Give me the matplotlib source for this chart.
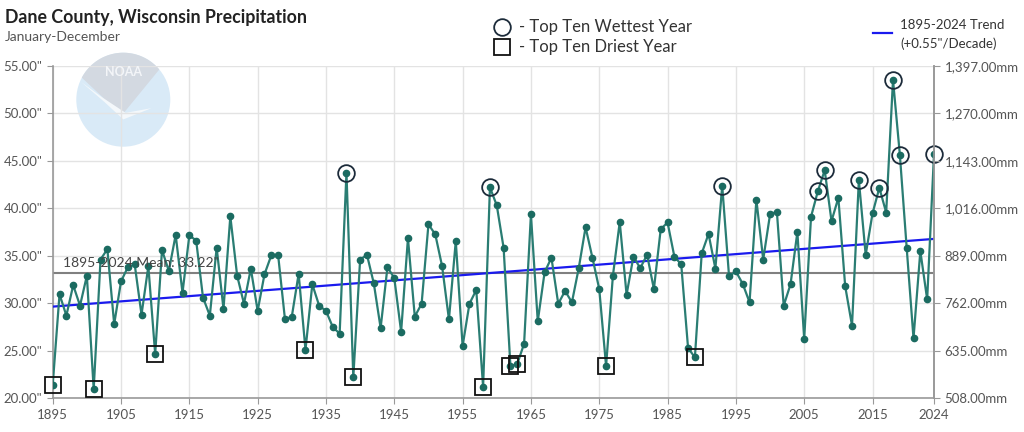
import numpy as np
import matplotlib
matplotlib.use('Agg')
import matplotlib.pyplot as plt
from matplotlib.patches import Circle, Polygon
from matplotlib.lines import Line2D

plt.rcParams['font.family'] = ['Lato', 'DejaVu Sans']

years = np.arange(1895, 2025)
precip = [
    21.4, 30.95, 28.7, 31.9, 29.75, 32.9, 20.95, 34.6, 35.7, 27.8,    # 1895-1904
    32.3, 33.8, 34.1, 28.8, 33.9, 24.66, 35.6, 33.4, 37.2, 31.1,      # 1905-1914
    37.15, 36.6, 30.6, 28.7, 35.85, 29.4, 39.15, 32.9, 29.95, 33.65,  # 1915-1924
    29.2, 33.05, 35.05, 35.05, 28.3, 28.6, 33.1, 25.1, 32.0, 29.75,   # 1925-1934
    29.2, 27.5, 26.8, 43.75, 22.2, 34.6, 35.1, 32.1, 27.4, 33.8,      # 1935-1944
    32.65, 27.0, 36.85, 28.6, 29.95, 38.3, 37.25, 33.9, 28.3, 36.55,  # 1945-1954
    25.5, 29.95, 31.4, 21.2, 42.2, 40.3, 35.85, 23.4, 23.6, 25.75,    # 1955-1964
    39.35, 28.1, 33.25, 34.8, 29.95, 31.3, 30.1, 33.7, 38.0, 34.8,    # 1965-1974
    31.5, 23.4, 32.9, 38.55, 30.9, 34.9, 33.7, 35.1, 31.5, 37.8,      # 1975-1984
    38.5, 34.9, 34.1, 25.3, 24.3, 35.25, 37.3, 33.65, 42.35, 32.85,   # 1985-1994
    33.35, 32.05, 30.1, 40.9, 34.6, 39.35, 39.65, 29.75, 32.0, 37.5,  # 1995-2004
    26.25, 39.1, 41.8, 44.0, 38.65, 41.1, 31.8, 27.65, 42.95, 35.1,   # 2005-2014
    39.45, 42.15, 39.55, 53.5, 45.65, 35.85, 26.3, 35.5, 30.4, 45.7,  # 2015-2024
]
precip = np.array(precip)
wettest_years = [2018, 2024, 2019, 2008, 1938, 2013, 1993, 1959, 2016, 2007]
driest_years = [1901, 1958, 1895, 1939, 1962, 1976, 1963, 1989, 1910, 1932]
mean_val = 33.22
xtick_years = [1895, 1905, 1915, 1925, 1935, 1945, 1955, 1965, 1975, 1985, 1995, 2005, 2015, 2024]
yticks_in = [20, 25, 30, 35, 40, 45, 50, 55]

line_col = '#2a7d73'
dot_col = '#1b6b61'
tick_col = '#555555'
axis_col = '#999999'

fig = plt.figure(figsize=(10.24, 4.32), dpi=100)
ax = fig.add_axes([52.7/1024, 1-398.3/432, (934-52.7)/1024, (398.3-65.7)/432])
ax.set_xlim(1895, 2024)
ax.set_ylim(20, 55)
ax.set_axisbelow(True)

# faded NOAA logo (drawn in inches so it stays round)
cx, cy, r = 1.233, 4.32-0.997, 0.47
ax.add_patch(Circle((cx, cy), r, transform=fig.dpi_scale_trans,
                    facecolor='#d9eaf7', edgecolor='none', zorder=0.2, clip_on=False))
ang = np.radians(np.linspace(40, 152, 40))
top = [(cx + r*np.cos(a), cy + r*np.sin(a)) for a in ang]
top.append((cx - 0.03*r, cy - 0.33*r))
ax.add_patch(Polygon(top, closed=True, transform=fig.dpi_scale_trans,
                     facecolor='#d3d9e1', edgecolor='none', zorder=0.25, clip_on=False))
wing = [(cx - 0.9*r, cy + 0.38*r), (cx - 0.4*r, cy - 0.05*r), (cx + 0.0*r, cy - 0.42*r),
        (cx + 0.6*r, cy - 0.18*r), (cx + 0.05*r, cy - 0.28*r), (cx - 0.45*r, cy + 0.05*r)]
ax.add_patch(Polygon(wing, closed=True, transform=fig.dpi_scale_trans,
                     facecolor='#f4f8fb', edgecolor='none', zorder=0.27, clip_on=False))
fig.text(123.3/1024, 1-72/432, 'NOAA', color='#f3f5f8', fontsize=9, fontweight='bold',
         ha='center', va='center', zorder=0.3)

ax.grid(True, color='#e3e3e3', linewidth=1)
ax.set_xticks(xtick_years)
ax.set_yticks(yticks_in)
ax.set_yticklabels(['{:.2f}"'.format(v) for v in yticks_in])
ax.tick_params(colors=tick_col, labelsize=9.5, length=4, color=axis_col)
ax.spines['top'].set_visible(False)
for s in ['left', 'right', 'bottom']:
    ax.spines[s].set_color(axis_col)
    ax.spines[s].set_linewidth(1.2)

# mean line
ax.axhline(mean_val, color='#808080', linewidth=1.5, zorder=2)
ax.text(1896.5, mean_val + 0.35, '1895-2024 Mean: 33.22"', color='#444444', fontsize=10,
        va='bottom', ha='left', zorder=6)

# trend line
coef = np.polyfit(years, precip, 1)
ax.plot(years, np.polyval(coef, years), color='#1a1aee', linewidth=1.6, zorder=3)

# data
ax.plot(years, precip, color=line_col, linewidth=1.6, zorder=4)
ax.plot(years, precip, 'o', color=dot_col, markersize=4.5, zorder=5)

wi = [list(years).index(y) for y in wettest_years]
di = [list(years).index(y) for y in driest_years]
ax.plot(years[wi], precip[wi], 'o', markersize=12, markerfacecolor='none',
        markeredgecolor='#1c2b3a', markeredgewidth=1.3, zorder=6, clip_on=False)
ax.plot(years[di], precip[di], 's', markersize=11, markerfacecolor='none',
        markeredgecolor='#111111', markeredgewidth=1.3, zorder=6, clip_on=False)

# right axis in mm
ax2 = ax.twinx()
ax2.set_ylim(20*25.4, 55*25.4)
mm_ticks = [v*25.4 for v in yticks_in]
ax2.set_yticks(mm_ticks)
ax2.set_yticklabels(['{:,.2f}mm'.format(v) for v in mm_ticks])
ax2.tick_params(colors=tick_col, labelsize=9.5, length=4, color=axis_col)
for s in ['top', 'left', 'bottom']:
    ax2.spines[s].set_visible(False)
ax2.spines['right'].set_color(axis_col)
ax2.spines['right'].set_linewidth(1.2)

# titles
fig.text(5/1024, 1-17/432, 'Dane County, Wisconsin Precipitation', fontsize=12.8,
         fontweight='bold', color='#222222', va='center', ha='left')
fig.text(5/1024, 1-37/432, 'January-December', fontsize=10, color='#555555',
         va='center', ha='left')

# legend for markers
fig.add_artist(Line2D([502/1024], [1-27/432], marker='o', markersize=12, markerfacecolor='none',
                      markeredgecolor='#1c2b3a', markeredgewidth=1.3, linestyle='none'))
fig.add_artist(Line2D([502/1024], [1-47/432], marker='s', markersize=11, markerfacecolor='none',
                      markeredgecolor='#111111', markeredgewidth=1.3, linestyle='none'))
fig.text(519/1024, 1-27/432, '- Top Ten Wettest Year', fontsize=12, color='#333333', va='center')
fig.text(519/1024, 1-47/432, '- Top Ten Driest Year', fontsize=12, color='#333333', va='center')

# trend legend
fig.add_artist(Line2D([873/1024, 892/1024], [1-33/432, 1-33/432], color='#1a1aee', linewidth=1.6))
fig.text(900/1024, 1-25/432, '1895-2024 Trend', fontsize=9.5, color='#333333', va='center')
fig.text(900/1024, 1-44/432, '(+0.55"/Decade)', fontsize=9.5, color='#333333', va='center')

fig.savefig('out.png', dpi=100)
